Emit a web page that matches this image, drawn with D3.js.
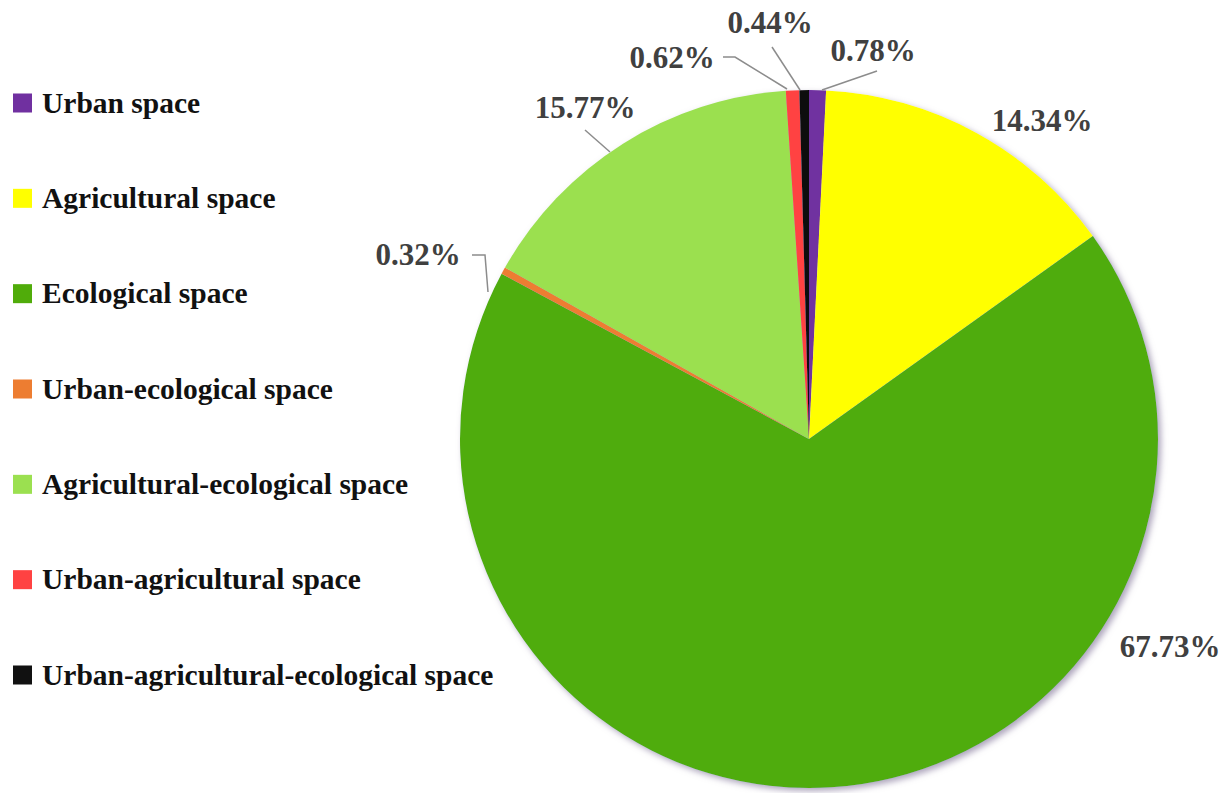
<!DOCTYPE html>
<html>
<head>
<meta charset="utf-8">
<script src="https://cdn.jsdelivr.net/npm/d3@7"></script>
<style>
  html, body { margin: 0; padding: 0; background: #ffffff; }
  svg { display: block; }
</style>
</head>
<body>
<svg id="chart" width="1226" height="793"></svg>
<script>
// ---- data ----
const categories = [
  "Urban space",
  "Agricultural space",
  "Ecological space",
  "Urban-ecological space",
  "Agricultural-ecological space",
  "Urban-agricultural space",
  "Urban-agricultural-ecological space"
];
const values = [0.78, 14.34, 67.73, 0.32, 15.77, 0.62, 0.44];
const colors = ["#7030A0", "#FFFF00", "#50AC0A", "#ED7D31", "#9BE050", "#FF4242", "#111111"];
const valueLabels = ["0.78%", "14.34%", "67.73%", "0.32%", "15.77%", "0.62%", "0.44%"];

// ---- layout (positions separate from data) ----
const W = 1226, H = 793;
const cx = 809, cy = 439, R = 349;
// label anchor (centre x, baseline y) per slice
const labelPos = [[873, 61], [1042, 131], [1170, 657], [418, 265], [585, 118], [672, 68], [770, 33]];
// leader line point lists (from label to slice edge); null = no leader
const leaders = [
  [[877, 71], [822, 90]],
  null,
  null,
  [[472, 255], [485, 255], [488, 292]],
  [[585, 130], [610, 152]],
  [[723, 57], [735, 57], [787, 89]],
  [[772, 47], [800, 90]]
];

const svg = d3.select("#chart");
const defs = svg.append("defs");
const f = defs.append("filter").attr("id", "shadow")
  .attr("x", "-10%").attr("y", "-10%").attr("width", "120%").attr("height", "120%");
f.append("feDropShadow").attr("dx", 3).attr("dy", 3).attr("stdDeviation", 3)
  .attr("flood-color", "#8a7fa0").attr("flood-opacity", 0.7);

const pie = d3.pie().value(d => d).sort(null).startAngle(0).endAngle(2 * Math.PI);
const arc = d3.arc().innerRadius(0).outerRadius(R);
const arcs = pie(values);

const g = svg.append("g").attr("transform", `translate(${cx},${cy})`);
g.append("g").attr("filter", "url(#shadow)")
  .selectAll("path").data(arcs).join("path")
  .attr("d", arc)
  .attr("fill", (d, i) => colors[i]);

// leader lines
const line = d3.line();
svg.append("g").selectAll("path").data(leaders.filter(l => l)).join("path")
  .attr("d", d => line(d))
  .attr("fill", "none")
  .attr("stroke", "#8c8c8c")
  .attr("stroke-width", 1.5);

// value labels
svg.append("g").selectAll("text").data(valueLabels).join("text")
  .attr("x", (d, i) => labelPos[i][0])
  .attr("y", (d, i) => labelPos[i][1])
  .attr("text-anchor", "middle")
  .attr("font-family", "'Liberation Serif', 'Times New Roman', serif")
  .attr("font-weight", "bold")
  .attr("font-size", 31)
  .attr("fill", "#404040")
  .text(d => d);

// legend
const legendY = d3.scalePoint().domain(categories).range([103, 675]);
const lg = svg.append("g");
const items = lg.selectAll("g").data(categories).join("g")
  .attr("transform", d => `translate(13,${legendY(d)})`);
items.append("rect")
  .attr("x", 0).attr("y", -9.5).attr("width", 19).attr("height", 19)
  .attr("fill", (d, i) => colors[i]);
items.append("text")
  .attr("x", 29).attr("y", 9.5)
  .attr("font-family", "'Liberation Serif', 'Times New Roman', serif")
  .attr("font-weight", "bold")
  .attr("font-size", 29.5)
  .attr("fill", "#111111")
  .text(d => d);
</script>
</body>
</html>
